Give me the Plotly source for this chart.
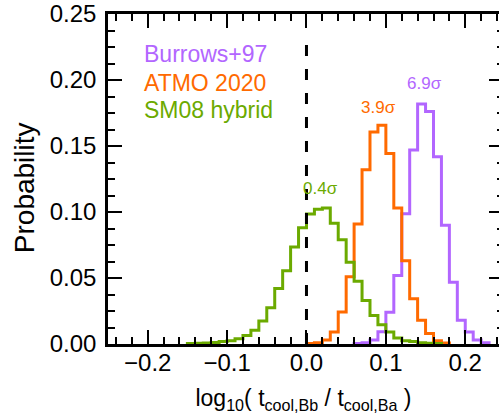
import numpy as np
import plotly.graph_objects as go

# ---- data ----
bin_width = 0.01

green_start = -0.15
green_prob = [0.0003, 0.0005, 0.0008, 0.0012, 0.0018, 0.0025, 0.0040, 0.0065,
              0.0105, 0.0175, 0.0275, 0.0420, 0.0555, 0.0735, 0.0880, 0.0985,
              0.1020, 0.1030, 0.0915, 0.0790, 0.0620, 0.0475, 0.0330, 0.0215,
              0.0145, 0.0090, 0.0045, 0.0025, 0.0018, 0.0010, 0.0006, 0.0003]

orange_start = 0.00
orange_prob = [0.0003, 0.0010, 0.0030, 0.0090, 0.0243, 0.0510, 0.0910, 0.1320,
               0.1607, 0.1657, 0.1444, 0.1031, 0.0630, 0.0343, 0.0180, 0.0080,
               0.0025, 0.0008]

purple_start = 0.06
purple_prob = [0.0003, 0.0010, 0.0030, 0.0093, 0.0240, 0.0518, 0.0986, 0.1469,
               0.1819, 0.1762, 0.1419, 0.0900, 0.0468, 0.0180, 0.0090, 0.0030,
               0.0010]

model_names = ["Burrows+97", "ATMO 2020", "SM08 hybrid"]
model_colors = ["#B266FF", "#FF6A00", "#6BAA00"]
sigma_labels = ["6.9σ", "3.9σ", "0.4σ"]
sigma_x = [0.149, 0.091, 0.018]
sigma_y = [0.197, 0.179, 0.1176]

x_ticks = [-0.2, -0.1, 0.0, 0.1, 0.2]
y_ticks = [0.00, 0.05, 0.10, 0.15, 0.20, 0.25]

ref_x = 0.0
ref_y_top = 0.228


def step_xy(start, probs):
    edges = start + bin_width * np.arange(len(probs) + 1)
    xs = [edges[0]] + list(edges[:-1]) + [edges[-1], edges[-1]]
    ys = [0.0] + list(probs) + [probs[-1], 0.0]
    return xs, ys


fig = go.Figure()
series = [(purple_start, purple_prob), (orange_start, orange_prob), (green_start, green_prob)]
for (start, probs), name, col in zip(series, model_names, model_colors):
    xs, ys = step_xy(start, probs)
    fig.add_trace(go.Scatter(x=xs, y=ys, mode="lines", name=name,
                             line=dict(shape="hv", width=3, color=col)))

# dummy trace for the right-hand tick axis
fig.add_trace(go.Scatter(x=[None], y=[None], yaxis="y2", showlegend=False))

fig.add_shape(type="line", xref="x", yref="y", x0=ref_x, x1=ref_x, y0=0, y1=ref_y_top,
              line=dict(color="black", width=3, dash="11px,13px"))

# legend as coloured text
leg_y = [0.2194, 0.198, 0.177]
for name, col, yy in zip(model_names, model_colors, leg_y):
    fig.add_annotation(x=-0.207, y=yy, text=name, showarrow=False,
                       xanchor="left", yanchor="middle",
                       font=dict(size=23, color=col))

for lab, xx, yy, col in zip(sigma_labels, sigma_x, sigma_y, model_colors):
    fig.add_annotation(x=xx, y=yy, text=lab, showarrow=False,
                       xanchor="center", yanchor="middle",
                       font=dict(size=17, color=col))

# y-axis title
fig.add_annotation(xref="paper", yref="paper", x=-0.215, y=0.475, text="Probability",
                   textangle=-90, showarrow=False, xanchor="center", yanchor="middle",
                   font=dict(size=28, color="black"))

fig.update_layout(
    width=499, height=415,
    margin=dict(l=108, r=0, t=11, b=71),
    plot_bgcolor="white", paper_bgcolor="white",
    showlegend=False,
    font=dict(family="Liberation Sans, Arial, Helvetica, sans-serif", size=24, color="black"),
    xaxis=dict(
        range=[-0.25, 0.2425], tickvals=x_ticks, tickformat=".1f",
        ticks="inside", ticklen=14, tickwidth=2, tickcolor="black",
        showline=True, linewidth=2.5, linecolor="black", mirror="ticks",
        showgrid=False, zeroline=False,
        minor=dict(dtick=0.02, tick0=0, ticks="inside", ticklen=7, tickwidth=2, tickcolor="black", showgrid=False),
        title=dict(text="log<sub>10</sub>( t<sub>cool,Bb</sub> / t<sub>cool,Ba</sub> )",
                   standoff=16, font=dict(size=23)),
        ticklabelstandoff=-5,
    ),
    yaxis=dict(
        range=[0, 0.25], tickvals=y_ticks, tickformat=".2f",
        ticks="inside", ticklen=14, tickwidth=2, tickcolor="black",
        showline=True, linewidth=2.5, linecolor="black", mirror=False,
        showgrid=False, zeroline=False, ticklabeloverflow="allow",
        minor=dict(dtick=0.0125, tick0=0, ticks="inside", ticklen=7, tickwidth=2, tickcolor="black", showgrid=False),
        ticklabelstandoff=4,
    ),
    yaxis2=dict(
        overlaying="y", side="right", anchor="x", range=[0, 0.25], tickvals=y_ticks,
        ticks="inside", ticklen=10, tickwidth=2, tickcolor="black",
        showticklabels=False, showline=False, showgrid=False, zeroline=False,
        minor=dict(dtick=0.0125, tick0=0, ticks="inside", ticklen=2, tickwidth=2, tickcolor="black", showgrid=False),
    ),
)

fig.write_html("out.html")
